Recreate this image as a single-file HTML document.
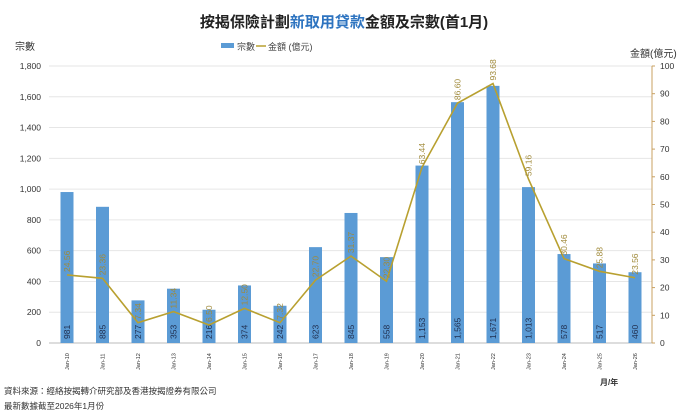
<!DOCTYPE html>
<html><head><meta charset="utf-8"><style>
body{margin:0;background:#fff;width:689px;height:413px;overflow:hidden;font-family:"Liberation Sans","Noto Sans CJK TC",sans-serif}
</style></head><body>
<svg id="c" width="689" height="413" xmlns="http://www.w3.org/2000/svg" font-family="Liberation Sans, Noto Sans CJK TC, sans-serif">
<text x="344" y="27" text-anchor="middle" font-size="15" font-weight="bold" fill="#222">按揭保險計劃<tspan fill="#2e74c0">新取用貸款</tspan>金額及宗數(首1月)</text>
<text x="15" y="50" font-size="10" fill="#333">宗數</text>
<text x="630" y="57" font-size="10" fill="#333">金額(億元)</text>
<rect x="221" y="43" width="13" height="5" fill="#5b9bd5"/>
<text x="237" y="50" font-size="9" fill="#444">宗數</text>
<line x1="256" y1="46" x2="266" y2="46" stroke="#b8a030" stroke-width="1.5"/>
<text x="268" y="50" font-size="9" fill="#444">金額 (億元)</text>
<g id="g"></g>
<text x="600" y="385" font-size="8" font-weight="bold" fill="#333">月/年</text>
<text x="4" y="394" font-size="8.5" fill="#333">資料來源：經絡按揭轉介研究部及香港按揭證券有限公司</text>
<text x="4" y="409" font-size="8.5" fill="#333">最新數據截至2026年1月份</text>
</svg>
<script>
(function(){
var n=[981,885,277,353,216,374,242,623,845,558,1153,1565,1671,1013,578,517,460];
var a=[24.56,23.36,7.34,11.34,6.50,12.50,7.32,22.70,31.37,22.30,63.44,86.60,93.68,59.16,30.46,25.88,23.56];
var y0=343,yt=66,H=y0-yt,x0=49.25,w=35.5,s='';
function f(v){return v.toLocaleString('en-US');}
for(var i=0;i<=9;i++){var y=y0-H*i/9;s+='<line x1="49" x2="652" y1="'+y+'" y2="'+y+'" stroke="'+(i?'#e6e6e6':'#bbb')+'" stroke-width="1"/>';
s+='<text x="41" y="'+(y+3)+'" text-anchor="end" font-size="8.5" fill="#333">'+f(i*200)+'</text>';}
for(var i=0;i<=10;i++){var y=y0-H*i/10;s+='<line x1="652" x2="655" y1="'+y+'" y2="'+y+'" stroke="#c8a060"/>';
s+='<text x="660" y="'+(y+3)+'" font-size="8.5" fill="#333">'+(i*10)+'</text>';}
s+='<line x1="652" x2="652" y1="'+yt+'" y2="'+y0+'" stroke="#c8a060"/>';
var pts=[];
for(var i=0;i<17;i++){var cx=x0+w*(i+.5),h=n[i]/1800*H;
s+='<rect x="'+(cx-6.5)+'" y="'+(y0-h)+'" width="13" height="'+h+'" fill="#5b9bd5"/>';
s+='<text transform="translate('+(cx+3)+','+(y0-4)+') rotate(-90)" font-size="8.5" fill="#1f2d4d">'+f(n[i])+'</text>';
var yr=('0'+(10+i)).slice(-2);
s+='<text transform="translate('+(cx+2)+','+(y0+27)+') rotate(-90)" font-size="5.5" fill="#333">Jan-'+yr+'</text>';
var ly=y0-a[i]/100*H;pts.push(cx+','+ly);}
s+='<polyline points="'+pts.join(' ')+'" fill="none" stroke="#b8a030" stroke-width="1.6"/>';
for(var i=0;i<17;i++){var cx=x0+w*(i+.5),ly=y0-a[i]/100*H;
s+='<text transform="translate('+(cx+3)+','+(ly-3)+') rotate(-90)" font-size="8.5" fill="#a08a3a">'+a[i].toFixed(2)+'</text>';}
document.getElementById('g').innerHTML=s;
})();
</script>
</body></html>
